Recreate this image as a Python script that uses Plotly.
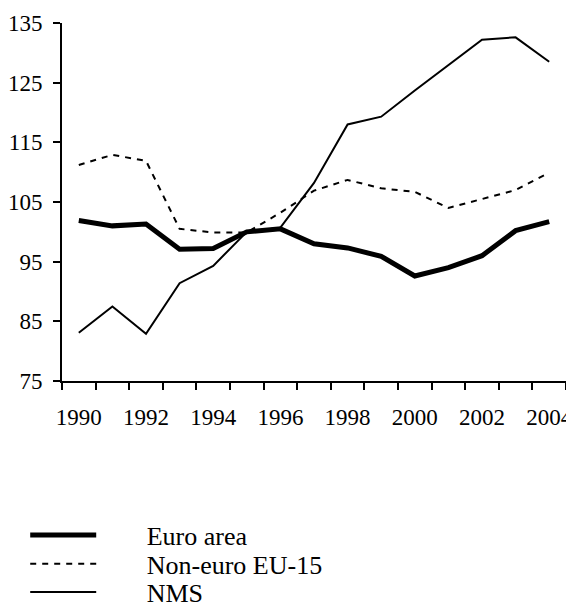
import numpy as np
import plotly.graph_objects as go

years = list(range(1990, 2005))
euro_area = [101.9, 101.0, 101.3, 97.1, 97.2, 100.0, 100.5, 98.0, 97.3, 95.9, 92.6, 94.0, 96.0, 100.2, 101.7]
non_euro_eu15 = [111.2, 112.9, 111.9, 100.5, 99.9, 99.9, 103.2, 106.9, 108.7, 107.3, 106.7, 104.0, 105.5, 107.0, 109.9]
nms = [83.1, 87.5, 82.9, 91.4, 94.3, 100.0, 100.7, 108.2, 118.0, 119.3, 123.7, 128.0, 132.2, 132.6, 128.5]

series_names = ["Euro area", "Non-euro EU-15", "NMS"]
x_tick_years = years[::2]
y_ticks = [75, 85, 95, 105, 115, 125, 135]

FONT = "Times New Roman, Liberation Serif, DejaVu Serif, serif"
PAD = "\u00a0" * 7

fig = go.Figure()
fig.add_trace(go.Scatter(x=years, y=euro_area, mode="lines", name=PAD + series_names[0],
                         line=dict(color="black", width=5), legend="legend"))
fig.add_trace(go.Scatter(x=years, y=non_euro_eu15, mode="lines", name=PAD + series_names[1],
                         line=dict(color="black", width=2, dash="6px,6px"), legend="legend2"))
fig.add_trace(go.Scatter(x=years, y=nms, mode="lines", name=PAD + series_names[2],
                         line=dict(color="black", width=2), legend="legend3"))

boundaries = list(np.array(years) - 0.5) + [years[-1] + 0.5]

def leg(yc):
    return dict(x=-0.073, y=yc, yref="container", xanchor="left", yanchor="middle",
                font=dict(size=26, family=FONT), itemwidth=66,
                tracegroupgap=0, bgcolor="rgba(0,0,0,0)")

fig.update_layout(
    width=574, height=608,
    margin=dict(l=54, r=16, t=15, b=235, autoexpand=False),
    plot_bgcolor="white", paper_bgcolor="white",
    font=dict(family=FONT, color="black", size=23),
    showlegend=True,
    legend=leg(0.133), legend2=leg(0.0857), legend3=leg(0.0395),
    xaxis=dict(range=[years[0] - 0.5, years[-1] + 0.5], automargin=False,
               tickmode="array", tickvals=x_tick_years,
               ticktext=[str(y) for y in x_tick_years],
               tickfont=dict(family=FONT, size=23),
               ticks="", showline=True, linecolor="black", linewidth=2,
               showgrid=False, zeroline=False, ticklabelstandoff=14,
               minor=dict(tickmode="array", tickvals=boundaries, ticks="outside",
                          ticklen=7, tickwidth=2, tickcolor="black", showgrid=False)),
    yaxis=dict(range=[75, 135], tickmode="array", tickvals=y_ticks, automargin=False,
               tickfont=dict(family=FONT, size=23),
               ticks="outside", ticklen=7, tickwidth=2, tickcolor="black",
               showline=True, linecolor="black", linewidth=2,
               showgrid=False, zeroline=False, ticklabelstandoff=6),
)

fig.write_html("out.html")
